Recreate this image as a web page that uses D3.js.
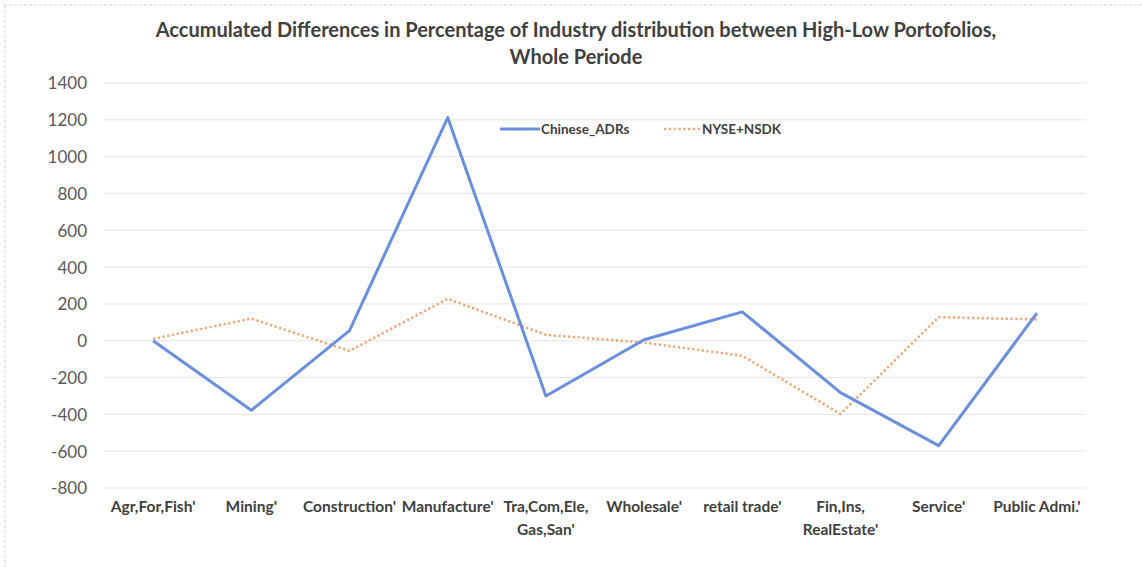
<!DOCTYPE html>
<html>
<head>
<meta charset="utf-8">
<script src="https://cdn.jsdelivr.net/npm/d3@7/dist/d3.min.js"></script>
<style>
  html, body { margin: 0; padding: 0; background: #ffffff; }
  svg { display: block; }
  text { font-family: Lato, "Open Sans", sans-serif; }
</style>
</head>
<body>
<svg id="chart" width="1142" height="567"></svg>
<script>
// Industry categories (x axis)
const categories = [
  ["Agr,For,Fish'"],
  ["Mining'"],
  ["Construction'"],
  ["Manufacture'"],
  ["Tra,Com,Ele,", "Gas,San'"],
  ["Wholesale'"],
  ["retail trade'"],
  ["Fin,Ins,", "RealEstate'"],
  ["Service'"],
  ["Public Admi.'"]
];
const categoryKeys = categories.map(c => c.join(" "));

// Accumulated differences per series
const chineseADRs = [0, -378, 55, 1212, -300, 5, 157, -282, -570, 150];
const nyseNsdk    = [10, 120, -55, 228, 32, -10, -82, -398, 128, 116];

const yTicks = [-800, -600, -400, -200, 0, 200, 400, 600, 800, 1000, 1200, 1400];

const seriesNames = ["Chinese_ADRs", "NYSE+NSDK"];
const titleLines = [
  "Accumulated Differences in Percentage of Industry distribution between High-Low Portofolios,",
  "Whole Periode"
];

const svg = d3.select("#chart");
const W = 1142, H = 567;
const plot = { left: 104, right: 1086, top: 83, bottom: 488 };

// faint frame edges of the chart area
svg.append("line").attr("x1", 4).attr("x2", W).attr("y1", 5).attr("y2", 5)
  .attr("stroke", "#d4d4d4").attr("stroke-width", 1).attr("stroke-dasharray", "3,2");
svg.append("line").attr("x1", 5).attr("x2", 5).attr("y1", 5).attr("y2", H)
  .attr("stroke", "#d4d4d4").attr("stroke-width", 1).attr("stroke-dasharray", "3,2");

const x = d3.scaleBand().domain(categoryKeys).range([plot.left, plot.right]).padding(0);
const y = d3.scaleLinear().domain([-800, 1400]).range([plot.bottom, plot.top]);
const cx = i => x(categoryKeys[i]) + x.bandwidth() / 2;

// horizontal gridlines
svg.append("g")
  .selectAll("line").data(yTicks).join("line")
  .attr("x1", plot.left).attr("x2", plot.right)
  .attr("y1", d => y(d)).attr("y2", d => y(d))
  .attr("stroke", "#e4e4e4").attr("stroke-width", 1);

// y axis labels
const yAxis = d3.axisLeft(y).tickValues(yTicks).tickSize(0).tickPadding(0).tickFormat(d => String(d));
const gy = svg.append("g").attr("transform", `translate(${plot.left - 17},0)`).call(yAxis);
gy.select(".domain").remove();
gy.selectAll("text")
  .attr("fill", "#595959")
  .style("font-family", "Lato, sans-serif")
  .style("font-size", "17px")
  .attr("dy", "0.35em");

// x axis labels (multi-line)
const xg = svg.append("g");
categories.forEach((lines, i) => {
  const t = xg.append("text")
    .attr("x", cx(i)).attr("y", 512)
    .attr("text-anchor", "middle")
    .attr("fill", "#404040")
    .style("font-weight", "bold")
    .style("font-size", "15.5px");
  lines.forEach((ln, j) => {
    t.append("tspan").attr("x", cx(i)).attr("dy", j === 0 ? 0 : 23).text(ln);
  });
});

// lines
const line = d3.line().x((d, i) => cx(i)).y(d => y(d));

svg.append("path").datum(nyseNsdk)
  .attr("d", line)
  .attr("fill", "none")
  .attr("stroke", "#f0a676")
  .attr("stroke-width", 2.6)
  .attr("stroke-dasharray", "2.2,2.6")
  .attr("stroke-linejoin", "round");

svg.append("path").datum(chineseADRs)
  .attr("d", line)
  .attr("fill", "none")
  .attr("stroke", "#6a8fdc")
  .attr("stroke-width", 3)
  .attr("stroke-linejoin", "round");

// legend
const legend = svg.append("g");
legend.append("line").attr("x1", 500).attr("x2", 540).attr("y1", 129).attr("y2", 129)
  .attr("stroke", "#6a8fdc").attr("stroke-width", 3);
legend.append("text").attr("x", 541).attr("y", 129).attr("dy", "0.35em")
  .attr("fill", "#404040").style("font-weight", "bold").style("font-size", "13.5px")
  .text(seriesNames[0]);
legend.append("line").attr("x1", 664).attr("x2", 701).attr("y1", 129).attr("y2", 129)
  .attr("stroke", "#f0a676").attr("stroke-width", 2.6).attr("stroke-dasharray", "2.2,2.6");
legend.append("text").attr("x", 702).attr("y", 129).attr("dy", "0.35em")
  .attr("fill", "#404040").style("font-weight", "bold").style("font-size", "13.5px")
  .text(seriesNames[1]);

// title
const title = svg.append("text")
  .attr("x", 576).attr("y", 37)
  .attr("text-anchor", "middle")
  .attr("fill", "#404040")
  .style("font-weight", "bold")
  .style("font-size", "20px");
titleLines.forEach((ln, j) => {
  title.append("tspan").attr("x", 576).attr("dy", j === 0 ? 0 : 27).text(ln);
});
</script>
</body>
</html>
